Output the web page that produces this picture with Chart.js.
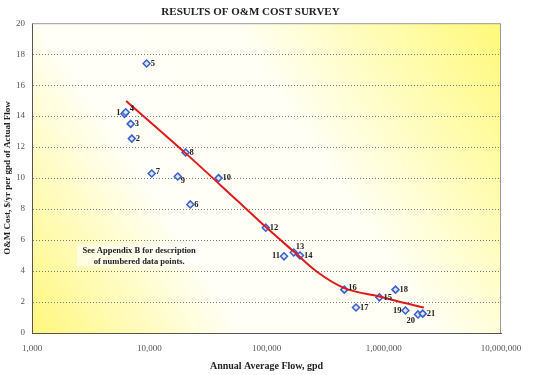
<!DOCTYPE html>
<html>
<head>
<meta charset="utf-8">
<script src="https://cdn.jsdelivr.net/npm/chart.js@4.4.1/dist/chart.umd.min.js"></script>
<style>
	html, body { margin: 0; padding: 0; background: #fff; }
	#wrap { width: 534px; height: 375px; }
</style>
</head>
<body>
<div id="wrap"><canvas id="surveyChart" width="534" height="375"></canvas></div>
<script>
// survey points
const pointIds = [1, 2, 3, 4, 5, 6, 7, 8, 9, 10, 11, 12, 13, 14, 15, 16, 17, 18, 19, 20, 21];
const flowGpd = [6150, 7100, 6950, 6300, 9500, 22400, 10500, 20400, 17500, 39000,
	141000, 98600, 171000, 193000, 918000, 461000, 580000, 1260000, 1530000, 1960000, 2150000];
const costPerGpd = [14.15, 12.55, 13.5, 14.25, 17.4, 8.3, 10.3, 11.65, 10.1, 10.0,
	4.95, 6.8, 5.2, 5.0, 2.3, 2.8, 1.65, 2.8, 1.45, 1.2, 1.25];

// red trend curve
const trendFlow = [6350, 20600, 56200, 99300, 170000, 271000, 461000, 918000, 1480000, 2200000];
const trendCost = [14.98, 11.58, 8.55, 6.82, 5.27, 3.94, 2.9, 2.36, 1.95, 1.65];

const xTicks = [1000, 10000, 100000, 1000000, 10000000];
const yTicks = [0, 2, 4, 6, 8, 10, 12, 14, 16, 18, 20];

const serif = "'Liberation Serif', 'Times New Roman', serif";

// where each number sits next to its marker: [dx, dy, align]
const labelPlace = {
	1: [-4, -1, 'right'], 4: [4, -3, 'left'], 9: [3, 4, 'left'], 11: [-4, -1, 'right'],
	13: [2, -6, 'left'], 19: [-4, 0, 'right'], 20: [-3, 6, 'right'], 7: [4, -2, 'left'],
	16: [4, -2, 'left']
};

const plotDecor = {
	id: 'plotDecor',
	beforeDraw(chart) {
		const { ctx, chartArea: a } = chart;
		const g = ctx.createLinearGradient(a.left, a.bottom, a.right, a.top);
		g.addColorStop(0, 'rgb(255, 247, 125)');
		g.addColorStop(0.32, 'rgb(255, 255, 248)');
		g.addColorStop(0.6, 'rgb(255, 255, 245)');
		g.addColorStop(1, 'rgb(255, 249, 120)');
		ctx.save();
		ctx.fillStyle = g;
		ctx.fillRect(a.left, a.top, a.right - a.left, a.bottom - a.top);
		ctx.restore();
	},
	afterDraw(chart) {
		const { ctx, chartArea: a, scales } = chart;
		ctx.save();
		ctx.strokeStyle = '#9a9a9a';
		ctx.lineWidth = 1;
		ctx.beginPath();
		ctx.moveTo(a.left, a.top + 0.5);
		ctx.lineTo(a.right - 0.5, a.top + 0.5);
		ctx.lineTo(a.right - 0.5, a.bottom);
		ctx.stroke();

		// numbers beside the points
		const meta = chart.getDatasetMeta(1);
		ctx.font = 'bold 8.5px ' + serif;
		ctx.fillStyle = '#222';
		ctx.textBaseline = 'middle';
		meta.data.forEach((pt, i) => {
			const id = pointIds[i];
			const p = labelPlace[id] || [4, 0, 'left'];
			ctx.textAlign = p[2];
			ctx.fillText(String(id), pt.x + p[0], pt.y + p[1]);
		});

		// note box
		const nx = scales.x.getPixelForValue(8200);
		const ny = scales.y.getPixelForValue(5.0);
		ctx.font = 'bold 8.5px ' + serif;
		ctx.textAlign = 'center';
		ctx.fillStyle = 'rgba(255,255,255,0.6)';
		ctx.fillRect(nx - 62, ny - 11, 124, 22);
		ctx.fillStyle = '#222';
		ctx.fillText('See Appendix B for description', nx, ny - 5);
		ctx.fillText('of numbered data points.', nx, ny + 6);
		ctx.restore();
	}
};

new Chart(document.getElementById('surveyChart'), {
	data: {
		datasets: [
			{
				type: 'line',
				data: trendFlow.map((f, i) => ({ x: f, y: trendCost[i] })),
				borderColor: '#e0191b',
				borderWidth: 2,
				pointRadius: 0,
				cubicInterpolationMode: 'monotone',
				fill: false
			},
			{
				type: 'scatter',
				data: flowGpd.map((f, i) => ({ x: f, y: costPerGpd[i] })),
				pointStyle: 'rectRot',
				pointRadius: 3.5,
				borderWidth: 1.5,
				borderColor: '#3a5fc8',
				backgroundColor: '#dfe6f8'
			}
		]
	},
	options: {
		responsive: false,
		animation: false,
		layout: { padding: { left: 0, right: 33, top: 0, bottom: 0 } },
		plugins: {
			legend: { display: false },
			tooltip: { enabled: false },
			title: {
				display: true,
				text: 'RESULTS OF O&M COST SURVEY',
				font: { family: serif, size: 11, weight: 'bold' },
				color: '#222',
				padding: { top: 6, bottom: 4 }
			}
		},
		scales: {
			x: {
				type: 'logarithmic',
				min: 1000,
				max: 10000000,
				afterBuildTicks: (s) => { s.ticks = xTicks.map(v => ({ value: v })); },
				afterFit: (s) => { s.height = 42; },
				ticks: {
					autoSkip: false,
					maxRotation: 0,
					padding: 2,
					font: { family: serif, size: 9 },
					color: '#555',
					callback: (v) => Number(v).toLocaleString('en-US')
				},
				grid: { display: false },
				border: { color: '#555', width: 1 },
				title: {
					display: true,
					text: 'Annual Average Flow, gpd',
					font: { family: serif, size: 10, weight: 'bold' },
					color: '#222',
					padding: { top: 2, bottom: 3 }
				}
			},
			y: {
				min: 0,
				max: 20,
				afterBuildTicks: (s) => { s.ticks = yTicks.map(v => ({ value: v })); },
				afterFit: (s) => { s.width = 32; },
				ticks: {
					padding: 7,
					font: { family: serif, size: 9 },
					color: '#555'
				},
				grid: {
					drawTicks: false,
					color: (c) => (c.tick.value === 0 || c.tick.value === 20) ? 'rgba(0,0,0,0)' : '#7a7a7a',
					lineWidth: 1
				},
				// in v4 border.dash styles the grid lines
				border: { color: '#555', width: 1, dash: [1, 2] },
				title: {
					display: true,
					text: 'O&M Cost, $/yr per gpd of Actual Flow',
					font: { family: serif, size: 9, weight: 'bold' },
					color: '#222',
					padding: { top: 2, bottom: 0 }
				}
			}
		}
	},
	plugins: [plotDecor]
});
</script>
</body>
</html>
